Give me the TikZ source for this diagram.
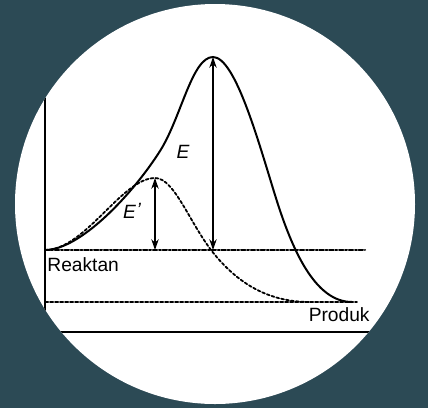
\documentclass[tikz,border=0pt]{standalone}
\usepackage{fontspec}
\setmainfont{Liberation Sans}
\usetikzlibrary{arrows.meta}
\tikzset{>={Stealth[length=1.9mm,width=1.3mm]}}
\definecolor{SlateBack}{HTML}{2C4A55}
\tikzset{
  AxisLine/.style={line width=0.9pt},
  LevelLine/.style={line width=1pt, dash pattern=on 2.2pt off 0.9pt on 0.9pt off 0.9pt},
  ProductLine/.style={line width=0.8pt, dash pattern=on 1.6pt off 0.9pt},
  PathLine/.style={line width=1pt},
  CatLine/.style={line width=0.9pt, dash pattern=on 1.4pt off 1.1pt},
  Label/.style={font=\fontsize{9.6}{11}\selectfont, inner sep=0pt}
}

\begin{document}
\begin{tikzpicture}[x=0.5pt,y=-0.5pt,line cap=round]
    \path[use as bounding box, fill=SlateBack] (0,0) rectangle (428,408);
    \fill[white] (215,204) circle [radius=100pt];
    \begin{scope}
      \clip (215,204) circle [radius=100pt];
      % axes
      \draw[AxisLine] (45,98) -- (45,332) -- (420,332);
      % energy levels
      \draw[LevelLine] (45,250) -- (365,250);
      \draw[ProductLine] (45,302) -- (357,302);
      % uncatalysed path
      \draw[PathLine] (45,250) .. controls (80,250) and (132,195) .. (160,151)
        .. controls (181,118) and (192,57) .. (213,57)
        .. controls (235,57) and (258,140) .. (275,195)
        .. controls (292,250) and (315,302) .. (352,302);
      % catalysed path
      \draw[CatLine] (45,250) .. controls (85,250) and (122,178) .. (155,178)
        .. controls (175,178) and (190,225) .. (215,255)
        .. controls (240,285) and (270,302) .. (310,302);
    \end{scope}

    \coordinate (TopE) at (213,57);
    \coordinate (BaseE) at (213,250);
    \coordinate (TopCat) at (155,178);
    \coordinate (BaseCat) at (155,250);
    \draw[<->, line width=0.6pt] (TopE) -- (BaseE);
    \draw[<->, line width=0.9pt] (TopCat) -- (BaseCat);

    \node[Label] (labE) at (183,152) {\itshape E};
    \node[Label] (labCat) at (132,211) {\itshape E\kern0.3pt\raisebox{0.2ex}{'}};
    \node[Label, anchor=base west] (reaktan) at (47,271) {Reaktan};
    \node[Label, anchor=base east] (produk) at (370,321) {Produk};
\end{tikzpicture}
\end{document}
